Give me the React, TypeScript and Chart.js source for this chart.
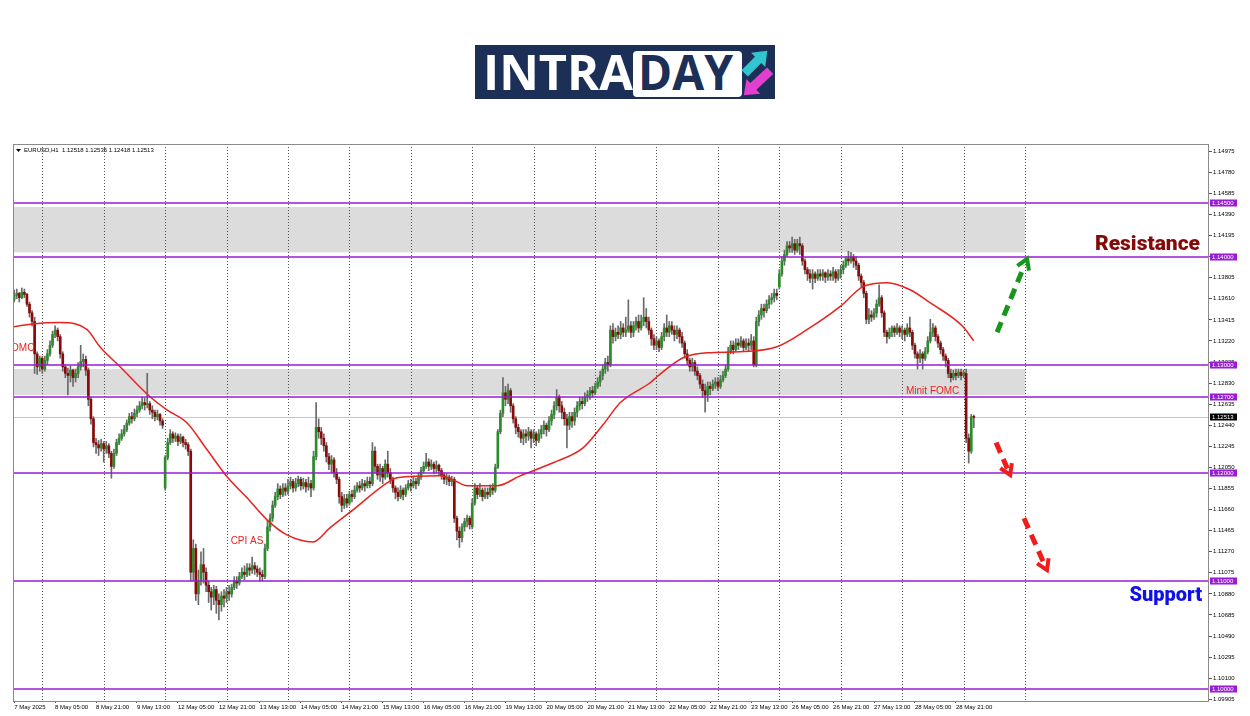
import React, { useEffect, useRef } from "react";
import { Chart, registerables } from "chart.js";

Chart.register(...registerables);

const headerText = "EURUSD,H1  1.12518 1.12535 1.12418 1.12513";

const firstOpen = 1.136;
const gapBars = [59, 179, 299];
const gapOpens = [1.1186, 1.115, 1.1372];

const closes = [
  1.1364,1.1366,1.1362,1.1367,1.1365,1.1356,1.1348,1.1340,1.1310,1.1298,
  1.1306,1.1296,1.1304,1.1310,1.1318,1.1328,1.1332,1.1326,1.1310,1.1298,
  1.1292,1.1290,1.1295,1.1288,1.1292,1.1298,1.1303,1.1305,1.1295,1.1268,
  1.1250,1.1228,1.1226,1.1223,1.1227,1.1222,1.1225,1.1218,1.1206,1.1218,
  1.1228,1.1232,1.1236,1.1240,1.1246,1.1252,1.1250,1.1255,1.1258,1.1262,
  1.1265,1.1263,1.1264,1.1258,1.1256,1.1252,1.1254,1.1248,1.1244,1.1214,
  1.1228,1.1236,1.1232,1.1234,1.1229,1.1233,1.1228,1.1226,1.1220,1.1108,
  1.1130,1.1088,1.1100,1.1115,1.1108,1.1096,1.1090,1.1085,1.1092,1.1082,
  1.1078,1.1086,1.1084,1.1090,1.1088,1.1094,1.1100,1.1098,1.1104,1.1108,
  1.1106,1.1112,1.1110,1.1114,1.1111,1.1108,1.1106,1.1104,1.1130,1.1150,
  1.1158,1.1170,1.1178,1.1185,1.1180,1.1186,1.1183,1.1188,1.1192,1.1186,
  1.1190,1.1194,1.1188,1.1191,1.1187,1.1190,1.1186,1.1215,1.1242,1.1238,
  1.1232,1.1225,1.1215,1.1208,1.1212,1.1200,1.1194,1.1178,1.1170,1.1176,
  1.1172,1.1180,1.1178,1.1184,1.1188,1.1186,1.1190,1.1188,1.1192,1.1190,
  1.1220,1.1206,1.1198,1.1204,1.1196,1.1208,1.1200,1.1194,1.1186,1.1182,
  1.1178,1.1184,1.1180,1.1186,1.1190,1.1188,1.1192,1.1190,1.1196,1.1202,
  1.1206,1.1210,1.1206,1.1208,1.1204,1.1207,1.1202,1.1198,1.1194,1.1196,
  1.1192,1.1194,1.1158,1.1146,1.1140,1.1150,1.1155,1.1158,1.1152,1.1172,
  1.1186,1.1180,1.1184,1.1178,1.1182,1.1180,1.1186,1.1184,1.1205,1.1238,
  1.1255,1.1274,1.1268,1.1276,1.1262,1.1250,1.1242,1.1238,1.1232,1.1236,
  1.1234,1.1238,1.1232,1.1236,1.1230,1.1236,1.1240,1.1244,1.1240,1.1248,
  1.1254,1.1262,1.1270,1.1262,1.1256,1.1250,1.1244,1.1252,1.1248,1.1256,
  1.1262,1.1266,1.1264,1.1270,1.1272,1.1276,1.1274,1.1280,1.1284,1.1290,
  1.1296,1.1302,1.1300,1.1332,1.1326,1.1330,1.1328,1.1334,1.1330,1.1332,
  1.1336,1.1330,1.1336,1.1340,1.1334,1.1340,1.1344,1.1340,1.1332,1.1324,
  1.1318,1.1322,1.1316,1.1326,1.1334,1.1330,1.1336,1.1332,1.1328,1.1332,
  1.1326,1.1320,1.1310,1.1304,1.1298,1.1302,1.1294,1.1290,1.1282,1.1276,
  1.1272,1.1280,1.1278,1.1282,1.1284,1.1280,1.1286,1.1290,1.1296,1.1312,
  1.1318,1.1314,1.1320,1.1318,1.1322,1.1316,1.1320,1.1318,1.1322,1.1300,
  1.1340,1.1346,1.1352,1.1350,1.1356,1.1360,1.1362,1.1366,1.1364,1.1384,
  1.1396,1.1402,1.1410,1.1408,1.1412,1.1406,1.1412,1.1410,1.1396,1.1388,
  1.1384,1.1380,1.1384,1.1380,1.1384,1.1382,1.1385,1.1381,1.1384,1.1382,
  1.1386,1.1380,1.1384,1.1388,1.1392,1.1398,1.1396,1.1400,1.1396,1.1392,
  1.1382,1.1376,1.1366,1.1342,1.1346,1.1344,1.1348,1.1356,1.1362,1.1348,
  1.1330,1.1326,1.1330,1.1334,1.1330,1.1334,1.1330,1.1332,1.1328,1.1334,
  1.1330,1.1318,1.1310,1.1306,1.1310,1.1306,1.1312,1.1322,1.1330,1.1334,
  1.1326,1.1320,1.1314,1.1308,1.1304,1.1292,1.1288,1.1292,1.1290,1.1293,
  1.1290,1.1292,1.1232,1.1220,1.12518,1.12513,
];

const highs = [
  1.1369,1.1370,1.1367,1.1371,1.1370,1.1366,1.1358,1.1350,1.1344,1.1312,
  1.1308,1.1308,1.1308,1.1314,1.1322,1.1331,1.1336,1.1334,1.1328,1.1312,
  1.1300,1.1297,1.1299,1.1296,1.1296,1.1302,1.1318,1.1310,1.1308,1.1297,
  1.1270,1.1252,1.1232,1.1230,1.1231,1.1229,1.1229,1.1227,1.1220,1.1222,
  1.1231,1.1236,1.1240,1.1244,1.1249,1.1255,1.1256,1.1259,1.1262,1.1266,
  1.1270,1.1269,1.1292,1.1266,1.1262,1.1258,1.1258,1.1255,1.1250,1.1216,
  1.1232,1.1240,1.1238,1.1237,1.1236,1.1236,1.1234,1.1231,1.1228,1.1222,
  1.1138,1.1134,1.1110,1.1127,1.1130,1.1112,1.1100,1.1094,1.1096,1.1095,
  1.1088,1.1090,1.1092,1.1094,1.1096,1.1097,1.1104,1.1104,1.1108,1.1112,
  1.1114,1.1116,1.1116,1.1122,1.1117,1.1114,1.1112,1.1110,1.1134,1.1156,
  1.1162,1.1174,1.1182,1.1190,1.1188,1.1190,1.1190,1.1194,1.1196,1.1194,
  1.1195,1.1197,1.1196,1.1195,1.1194,1.1196,1.1193,1.1220,1.1265,1.1250,
  1.1242,1.1236,1.1228,1.1218,1.1216,1.1214,1.1204,1.1196,1.1182,1.1180,
  1.1180,1.1183,1.1184,1.1188,1.1191,1.1192,1.1194,1.1193,1.1196,1.1196,
  1.1228,1.1224,1.1208,1.1208,1.1206,1.1212,1.1220,1.1204,1.1196,1.1188,
  1.1186,1.1188,1.1186,1.1189,1.1193,1.1194,1.1196,1.1195,1.1200,1.1205,
  1.1210,1.1218,1.1213,1.1212,1.1210,1.1211,1.1208,1.1204,1.1200,1.1199,
  1.1198,1.1197,1.1196,1.1160,1.1150,1.1153,1.1158,1.1161,1.1160,1.1176,
  1.1190,1.1188,1.1190,1.1186,1.1186,1.1186,1.1189,1.1190,1.1208,1.1240,
  1.1258,1.1288,1.1280,1.1282,1.1278,1.1264,1.1252,1.1245,1.1240,1.1240,
  1.1240,1.1242,1.1240,1.1240,1.1238,1.1240,1.1244,1.1248,1.1246,1.1252,
  1.1258,1.1266,1.1277,1.1272,1.1266,1.1260,1.1254,1.1256,1.1256,1.1260,
  1.1266,1.1270,1.1270,1.1274,1.1276,1.1279,1.1280,1.1283,1.1288,1.1294,
  1.1300,1.1306,1.1308,1.1336,1.1338,1.1334,1.1336,1.1340,1.1338,1.1344,
  1.1360,1.1340,1.1340,1.1344,1.1346,1.1346,1.1362,1.1352,1.1344,1.1334,
  1.1328,1.1326,1.1324,1.1330,1.1338,1.1346,1.1340,1.1340,1.1336,1.1336,
  1.1334,1.1330,1.1322,1.1314,1.1306,1.1306,1.1304,1.1298,1.1292,1.1286,
  1.1282,1.1284,1.1284,1.1286,1.1288,1.1288,1.1290,1.1294,1.1300,1.1316,
  1.1322,1.1322,1.1324,1.1324,1.1326,1.1324,1.1324,1.1324,1.1328,1.1326,
  1.1344,1.1350,1.1356,1.1356,1.1360,1.1364,1.1366,1.1370,1.1370,1.1388,
  1.1400,1.1406,1.1414,1.1414,1.1418,1.1416,1.1416,1.1418,1.1412,1.1398,
  1.1390,1.1388,1.1388,1.1386,1.1388,1.1388,1.1388,1.1386,1.1388,1.1387,
  1.1390,1.1388,1.1388,1.1392,1.1396,1.1400,1.1405,1.1404,1.1402,1.1400,
  1.1394,1.1384,1.1378,1.1368,1.1352,1.1350,1.1352,1.1360,1.1374,1.1364,
  1.1350,1.1332,1.1334,1.1336,1.1336,1.1338,1.1336,1.1336,1.1334,1.1338,
  1.1344,1.1332,1.1320,1.1312,1.1314,1.1312,1.1316,1.1326,1.1342,1.1338,
  1.1336,1.1328,1.1322,1.1316,1.1310,1.1306,1.1296,1.1295,1.1296,1.1296,
  1.1296,1.1295,1.1296,1.1236,1.1254,1.12535,
];

const lows = [
  1.1358,1.1361,1.1358,1.1361,1.1362,1.1354,1.1344,1.1336,1.1292,1.1291,
  1.1294,1.1292,1.1294,1.1300,1.1308,1.1316,1.1325,1.1322,1.1306,1.1294,
  1.1288,1.1272,1.1284,1.1280,1.1284,1.1288,1.1295,1.1298,1.1290,1.1262,
  1.1245,1.1224,1.1218,1.1216,1.1220,1.1210,1.1218,1.1214,1.1195,1.1204,
  1.1216,1.1226,1.1230,1.1234,1.1238,1.1244,1.1246,1.1248,1.1252,1.1256,
  1.1259,1.1258,1.1260,1.1254,1.1250,1.1248,1.1249,1.1244,1.1241,1.1184,
  1.1212,1.1226,1.1228,1.1229,1.1225,1.1227,1.1224,1.1222,1.1216,1.1100,
  1.1100,1.1082,1.1078,1.1096,1.1098,1.1090,1.1080,1.1073,1.1078,1.1070,
  1.1064,1.1072,1.1076,1.1080,1.1082,1.1085,1.1092,1.1093,1.1096,1.1102,
  1.1101,1.1104,1.1105,1.1107,1.1106,1.1104,1.1100,1.1100,1.1102,1.1128,
  1.1146,1.1155,1.1168,1.1175,1.1176,1.1178,1.1179,1.1180,1.1185,1.1182,
  1.1183,1.1187,1.1184,1.1185,1.1182,1.1184,1.1178,1.1184,1.1212,1.1232,
  1.1226,1.1220,1.1210,1.1203,1.1200,1.1196,1.1190,1.1172,1.1164,1.1167,
  1.1168,1.1170,1.1173,1.1176,1.1182,1.1182,1.1184,1.1183,1.1186,1.1186,
  1.1188,1.1200,1.1194,1.1192,1.1190,1.1194,1.1196,1.1190,1.1182,1.1176,
  1.1174,1.1176,1.1175,1.1178,1.1184,1.1183,1.1186,1.1185,1.1188,1.1194,
  1.1200,1.1204,1.1202,1.1203,1.1199,1.1200,1.1198,1.1194,1.1190,1.1189,
  1.1188,1.1188,1.1154,1.1138,1.1131,1.1136,1.1146,1.1150,1.1148,1.1148,
  1.1170,1.1176,1.1178,1.1174,1.1176,1.1176,1.1178,1.1180,1.1182,1.1204,
  1.1236,1.1252,1.1262,1.1264,1.1256,1.1246,1.1236,1.1233,1.1228,1.1226,
  1.1228,1.1230,1.1223,1.1228,1.1225,1.1228,1.1232,1.1236,1.1234,1.1238,
  1.1244,1.1250,1.1258,1.1256,1.1250,1.1244,1.1223,1.1240,1.1242,1.1244,
  1.1252,1.1258,1.1259,1.1262,1.1266,1.1268,1.1270,1.1272,1.1278,1.1280,
  1.1286,1.1292,1.1294,1.1298,1.1320,1.1322,1.1324,1.1324,1.1326,1.1326,
  1.1330,1.1325,1.1326,1.1332,1.1330,1.1332,1.1336,1.1334,1.1328,1.1318,
  1.1314,1.1314,1.1312,1.1314,1.1322,1.1326,1.1326,1.1328,1.1322,1.1324,
  1.1320,1.1316,1.1306,1.1300,1.1294,1.1294,1.1290,1.1286,1.1278,1.1270,
  1.1256,1.1266,1.1272,1.1276,1.1278,1.1276,1.1278,1.1284,1.1288,1.1294,
  1.1310,1.1310,1.1312,1.1314,1.1316,1.1312,1.1314,1.1312,1.1314,1.1298,
  1.1298,1.1336,1.1342,1.1344,1.1348,1.1352,1.1356,1.1358,1.1360,1.1370,
  1.1382,1.1392,1.1400,1.1404,1.1404,1.1402,1.1404,1.1402,1.1392,1.1384,
  1.1378,1.1376,1.1370,1.1376,1.1378,1.1378,1.1378,1.1376,1.1378,1.1378,
  1.1378,1.1376,1.1378,1.1380,1.1384,1.1390,1.1392,1.1394,1.1390,1.1388,
  1.1378,1.1372,1.1362,1.1338,1.1338,1.1340,1.1342,1.1344,1.1354,1.1344,
  1.1326,1.1320,1.1324,1.1326,1.1326,1.1328,1.1326,1.1324,1.1322,1.1326,
  1.1326,1.1314,1.1306,1.1296,1.1302,1.1296,1.1304,1.1310,1.1320,1.1326,
  1.1322,1.1316,1.1310,1.1304,1.1298,1.1288,1.1284,1.1286,1.1286,1.1288,
  1.1286,1.1288,1.1228,1.1209,1.1218,1.12418,
];

// Moving average (bar index, value)
const maBars = [0, 8, 18, 28.5, 33.5, 41.4, 53.1, 59.7, 67.5, 75.4, 83.2, 91, 98.8, 106.6, 116.8, 123.4, 132.4, 145.7, 149.6, 166.4, 171.5, 177, 188.7, 197.7, 210.6, 222.3, 230.1, 236.8, 248.5, 251.2, 261.4, 270.8, 283.6, 298.1, 309.8, 322.7, 331.7, 341.1, 350.1, 357.9, 370.8, 375];
const maValues = [1.13352, 1.1338, 1.1339, 1.13324, 1.13167, 1.12981, 1.12704, 1.12583, 1.12463, 1.12213, 1.11963, 1.11769, 1.11565, 1.11426, 1.11361, 1.11491, 1.11657, 1.11907, 1.11954, 1.11972, 1.11935, 1.1188, 1.1188, 1.11972, 1.12093, 1.12231, 1.12444, 1.12648, 1.12833, 1.12889, 1.13065, 1.13111, 1.1312, 1.13167, 1.13324, 1.13537, 1.13722, 1.13759, 1.13694, 1.13574, 1.13352, 1.1322];

const xTickBars = [0, 16, 32, 48, 64, 80, 96, 112, 128, 144, 160, 176, 192, 208, 224, 240, 256, 272, 288, 304, 320, 336, 352, 368];
const xTickLabels = [
  "7 May 2025", "8 May 05:00", "8 May 21:00", "9 May 13:00", "12 May 05:00", "12 May 21:00",
  "13 May 13:00", "14 May 05:00", "14 May 21:00", "15 May 13:00", "16 May 05:00", "16 May 21:00",
  "19 May 13:00", "20 May 05:00", "20 May 21:00", "21 May 13:00", "22 May 05:00", "22 May 21:00",
  "23 May 13:00", "26 May 05:00", "26 May 21:00", "27 May 13:00", "28 May 05:00", "28 May 21:00",
];
const dayStartBars = [11, 35, 59, 83, 107, 131, 155, 179, 203, 227, 251, 275, 299, 323, 347, 371, 395];

const yTickValues = [
  1.09905, 1.101, 1.10295, 1.1049, 1.10685, 1.1088, 1.11075, 1.1127, 1.11465, 1.1166,
  1.11855, 1.1205, 1.12245, 1.1244, 1.12635, 1.1283, 1.13025, 1.1322, 1.13415, 1.1361,
  1.13805, 1.14, 1.14195, 1.1439, 1.14585, 1.1478, 1.14975,
];

const levels = [1.145, 1.14, 1.13, 1.127, 1.12, 1.11, 1.1];
const zoneTops = [1.1446, 1.1296];
const zoneBottoms = [1.1404, 1.1272];
const zoneEndBar = 395;
const lastPrice = 1.12513;

const noteTexts = ["FOMC", "CPI AS", "Minit FOMC"];
const noteBars = [7.9, 84.6, 348.5];
const notePrices = [1.13155, 1.11364, 1.12759];
const noteAligns = ["right", "left", "left"];

const arrowFromBars = [384.1, 383.7, 394.6];
const arrowFromPrices = [1.133, 1.1228, 1.1158];
const arrowToBars = [395.8, 389.2, 403.6];
const arrowToPrices = [1.1398, 1.1198, 1.111];
const arrowColors = ["#17961b", "#f01c1c", "#f01c1c"];

const zoneLabels = ["Resistance", "Support"];
const zoneLabelPrices = [1.14065, 1.10815];
const zoneLabelColors = ["#840a0a", "#1010e8"];
const zoneLabelSizes = [21, 20];
const zoneLabelInsets = [9, 7];

const X_MIN = -0.45;
const X_MAX = 466.9;
const Y_MIN = 1.09889;
const Y_MAX = 1.15042;

const FONT = "'Liberation Sans', Arial, sans-serif";
const PURPLE = "#9a1bd6";

const opens = closes.map((c, i) => {
  if (i === 0) return firstOpen;
  const g = gapBars.indexOf(i);
  if (g >= 0) return gapOpens[g];
  return closes[i - 1];
});

function drawArrow(ctx: CanvasRenderingContext2D, x1: number, y1: number, x2: number, y2: number, color: string) {
  const ang = Math.atan2(y2 - y1, x2 - x1);
  const head = 12;
  ctx.save();
  ctx.strokeStyle = color;
  ctx.lineWidth = 5;
  ctx.lineCap = "butt";
  ctx.setLineDash([11, 7]);
  ctx.beginPath();
  ctx.moveTo(x1, y1);
  ctx.lineTo(x2 - Math.cos(ang) * 7, y2 - Math.sin(ang) * 7);
  ctx.stroke();
  ctx.setLineDash([]);
  ctx.lineWidth = 4;
  ctx.lineJoin = "miter";
  ctx.beginPath();
  ctx.moveTo(x2 - head * Math.cos(ang - 0.55), y2 - head * Math.sin(ang - 0.55));
  ctx.lineTo(x2, y2);
  ctx.lineTo(x2 - head * Math.cos(ang + 0.55), y2 - head * Math.sin(ang + 0.55));
  ctx.stroke();
  ctx.restore();
}

const overlayPlugin = {
  id: "mt4overlay",
  beforeDatasetsDraw(chart: any) {
    const { ctx, chartArea: ca, scales } = chart;
    const xs = scales.x;
    const ys = scales.y;
    ctx.save();
    ctx.beginPath();
    ctx.rect(ca.left, ca.top, ca.right - ca.left, ca.bottom - ca.top);
    ctx.clip();
    ctx.fillStyle = "#dcdcdc";
    const zr = xs.getPixelForValue(zoneEndBar);
    zoneTops.forEach((t, i) => {
      const y1 = ys.getPixelForValue(t);
      const y2 = ys.getPixelForValue(zoneBottoms[i]);
      ctx.fillRect(ca.left, y1, zr - ca.left, y2 - y1);
    });
    ctx.strokeStyle = "#505050";
    ctx.lineWidth = 1;
    ctx.setLineDash([1, 2]);
    dayStartBars.forEach((b) => {
      const px = Math.round(xs.getPixelForValue(b)) + 0.5;
      ctx.beginPath();
      ctx.moveTo(px, ca.top);
      ctx.lineTo(px, ca.bottom);
      ctx.stroke();
    });
    ctx.setLineDash([]);
    const py = Math.round(ys.getPixelForValue(lastPrice)) + 0.5;
    ctx.strokeStyle = "#c8c8c8";
    ctx.beginPath();
    ctx.moveTo(ca.left, py);
    ctx.lineTo(ca.right, py);
    ctx.stroke();
    ctx.restore();
  },
  afterDatasetsDraw(chart: any) {
    const { ctx, chartArea: ca, scales } = chart;
    const xs = scales.x;
    const ys = scales.y;
    ctx.save();
    ctx.beginPath();
    ctx.rect(ca.left, ca.top, ca.right - ca.left, ca.bottom - ca.top);
    ctx.clip();
    // level lines
    ctx.strokeStyle = PURPLE;
    ctx.lineWidth = 1.6;
    levels.forEach((lv) => {
      const py = Math.round(ys.getPixelForValue(lv));
      ctx.beginPath();
      ctx.moveTo(ca.left, py);
      ctx.lineTo(ca.right, py);
      ctx.stroke();
    });
    // notes
    ctx.fillStyle = "#e8221d";
    ctx.font = `10px ${FONT}`;
    ctx.textBaseline = "middle";
    noteTexts.forEach((t, i) => {
      ctx.textAlign = noteAligns[i] as CanvasTextAlign;
      ctx.fillText(t, xs.getPixelForValue(noteBars[i]), ys.getPixelForValue(notePrices[i]));
    });
    // arrows
    arrowColors.forEach((c, i) => {
      drawArrow(
        ctx,
        xs.getPixelForValue(arrowFromBars[i]),
        ys.getPixelForValue(arrowFromPrices[i]),
        xs.getPixelForValue(arrowToBars[i]),
        ys.getPixelForValue(arrowToPrices[i]),
        c
      );
    });
    // big zone labels
    ctx.textAlign = "right";
    ctx.textBaseline = "alphabetic";
    zoneLabels.forEach((t, i) => {
      ctx.font = `900 ${zoneLabelSizes[i]}px Roboto, ${FONT}`;
      ctx.fillStyle = zoneLabelColors[i];
      ctx.fillText(t, ca.right - zoneLabelInsets[i], ys.getPixelForValue(zoneLabelPrices[i]));
    });
    ctx.restore();

    // frame
    ctx.save();
    ctx.strokeStyle = "#8a8a8a";
    ctx.lineWidth = 1;
    ctx.strokeRect(ca.left + 0.5, ca.top + 0.5, ca.right - ca.left - 1, ca.bottom - ca.top);
    // header
    ctx.fillStyle = "#000";
    ctx.beginPath();
    ctx.moveTo(ca.left + 3, ca.top + 5);
    ctx.lineTo(ca.left + 8, ca.top + 5);
    ctx.lineTo(ca.left + 5.5, ca.top + 8);
    ctx.closePath();
    ctx.fill();
    ctx.font = `6px ${FONT}`;
    ctx.textAlign = "left";
    ctx.textBaseline = "middle";
    ctx.fillText(headerText, ca.left + 11, ca.top + 6);
    ctx.restore();
  },
  afterDraw(chart: any) {
    const { ctx, chartArea: ca, scales } = chart;
    const ys = scales.y;
    ctx.save();
    ctx.font = `6px ${FONT}`;
    ctx.textAlign = "left";
    ctx.textBaseline = "middle";
    levels.forEach((lv) => {
      const py = Math.round(ys.getPixelForValue(lv));
      ctx.fillStyle = PURPLE;
      ctx.fillRect(ca.right + 1, py - 3.5, 27, 7);
      ctx.fillStyle = "#fff";
      ctx.fillText(lv.toFixed(5), ca.right + 3, py + 0.5);
    });
    const pp = Math.round(ys.getPixelForValue(lastPrice));
    ctx.fillStyle = "#000";
    ctx.fillRect(ca.right + 1, pp - 3.5, 27, 7);
    ctx.fillStyle = "#fff";
    ctx.fillText(lastPrice.toFixed(5), ca.right + 3, pp + 0.5);
    ctx.restore();
  },
};

export default function App() {
  const canvasRef = useRef<HTMLCanvasElement>(null);

  useEffect(() => {
    document.body.style.margin = "0";
    const canvas = canvasRef.current;
    if (!canvas) return;
    const idx = closes.map((_, i) => i);
    const wickData = idx.map((i) => ({
      x: i,
      y: [Math.min(lows[i], opens[i], closes[i]), Math.max(highs[i], opens[i], closes[i])],
    }));
    const bodyData = idx.map((i) => ({ x: i, y: [opens[i], closes[i]] }));
    const bodyColors = idx.map((i) => (closes[i] >= opens[i] ? "#2a8c2a" : "#8a0a0a"));
    const maData = maBars.map((b, i) => ({ x: b, y: maValues[i] }));

    const chart = new Chart(canvas, {
      type: "bar",
      data: {
        datasets: [
          {
            type: "bar",
            label: "wick",
            data: wickData as any,
            backgroundColor: "#6a6a6a",
            borderWidth: 0,
            barThickness: 1,
            grouped: false,
            order: 3,
          } as any,
          {
            type: "bar",
            label: "body",
            data: bodyData as any,
            backgroundColor: bodyColors,
            borderWidth: 0,
            barThickness: 2,
            minBarLength: 1,
            grouped: false,
            order: 2,
          } as any,
          {
            type: "line",
            label: "MA",
            data: maData as any,
            borderColor: "#e8221d",
            borderWidth: 1.5,
            pointRadius: 0,
            cubicInterpolationMode: "monotone",
            fill: false,
            order: 1,
          } as any,
        ],
      },
      options: {
        responsive: false,
        animation: false,
        devicePixelRatio: 1,
        layout: { padding: { left: 13, top: 144, right: 0, bottom: 0 } },
        plugins: { legend: { display: false }, tooltip: { enabled: false } },
        scales: {
          x: {
            type: "linear",
            min: X_MIN,
            max: X_MAX,
            offset: false,
            afterFit: (s: any) => {
              s.height = 15;
            },
            afterBuildTicks: (s: any) => {
              s.ticks = xTickBars.map((v) => ({ value: v }));
            },
            grid: { display: true, drawOnChartArea: false, drawTicks: true, tickLength: 2, color: "#555", offset: false },
            border: { display: false },
            ticks: {
              autoSkip: false,
              maxRotation: 0,
              minRotation: 0,
              align: "start",
              padding: 1,
              color: "#000",
              font: { size: 6, family: FONT },
              callback: (_v: any, i: number) => xTickLabels[i],
            },
          } as any,
          y: {
            type: "linear",
            position: "right",
            min: Y_MIN,
            max: Y_MAX,
            afterFit: (s: any) => {
              s.width = 41;
            },
            afterBuildTicks: (s: any) => {
              s.ticks = yTickValues.map((v) => ({ value: v }));
            },
            grid: { display: true, drawOnChartArea: false, drawTicks: true, tickLength: 3, color: "#555" },
            border: { display: false },
            ticks: {
              autoSkip: false,
              padding: 1,
              color: "#000",
              font: { size: 6, family: FONT },
              callback: (v: any) => Number(v).toFixed(5),
            },
          } as any,
        },
      },
      plugins: [overlayPlugin],
    });
    return () => chart.destroy();
  }, []);

  return (
    <div style={{ position: "absolute", left: 0, top: 0, width: 1250, height: 716, background: "#fff", overflow: "hidden" }}>
      <canvas ref={canvasRef} width={1250} height={716} style={{ position: "absolute", left: 0, top: 0, width: 1250, height: 716 }} />
      <svg width={300} height={54} style={{ position: "absolute", left: 475, top: 45 }}>
        <rect x={0} y={0} width={300} height={54} fill="#1c2f57" />
        <text x={8} y={45} fill="#ffffff" fontFamily="'Open Sans', Lato, sans-serif" fontWeight={700} fontSize={49} textLength={150} lengthAdjust="spacingAndGlyphs">INTRA</text>
        <rect x={158} y={6} width={109} height={46} rx={4} fill="#ffffff" />
        <text x={163} y={45} fill="#1c2f57" fontFamily="'Open Sans', Lato, sans-serif" fontWeight={700} fontSize={49} textLength={95} lengthAdjust="spacingAndGlyphs">DAY</text>
        <g transform="translate(281,17) rotate(-45)">
          <polygon points="-16,-4.5 3,-4.5 3,-10 16,0 3,10 3,4.5 -16,4.5" fill="#2fc6cf" />
        </g>
        <g transform="translate(282,38) rotate(137)">
          <polygon points="-18,-4.5 5,-4.5 5,-10 18,0 5,10 5,4.5 -18,4.5" fill="#e23fd0" />
        </g>
      </svg>
    </div>
  );
}
